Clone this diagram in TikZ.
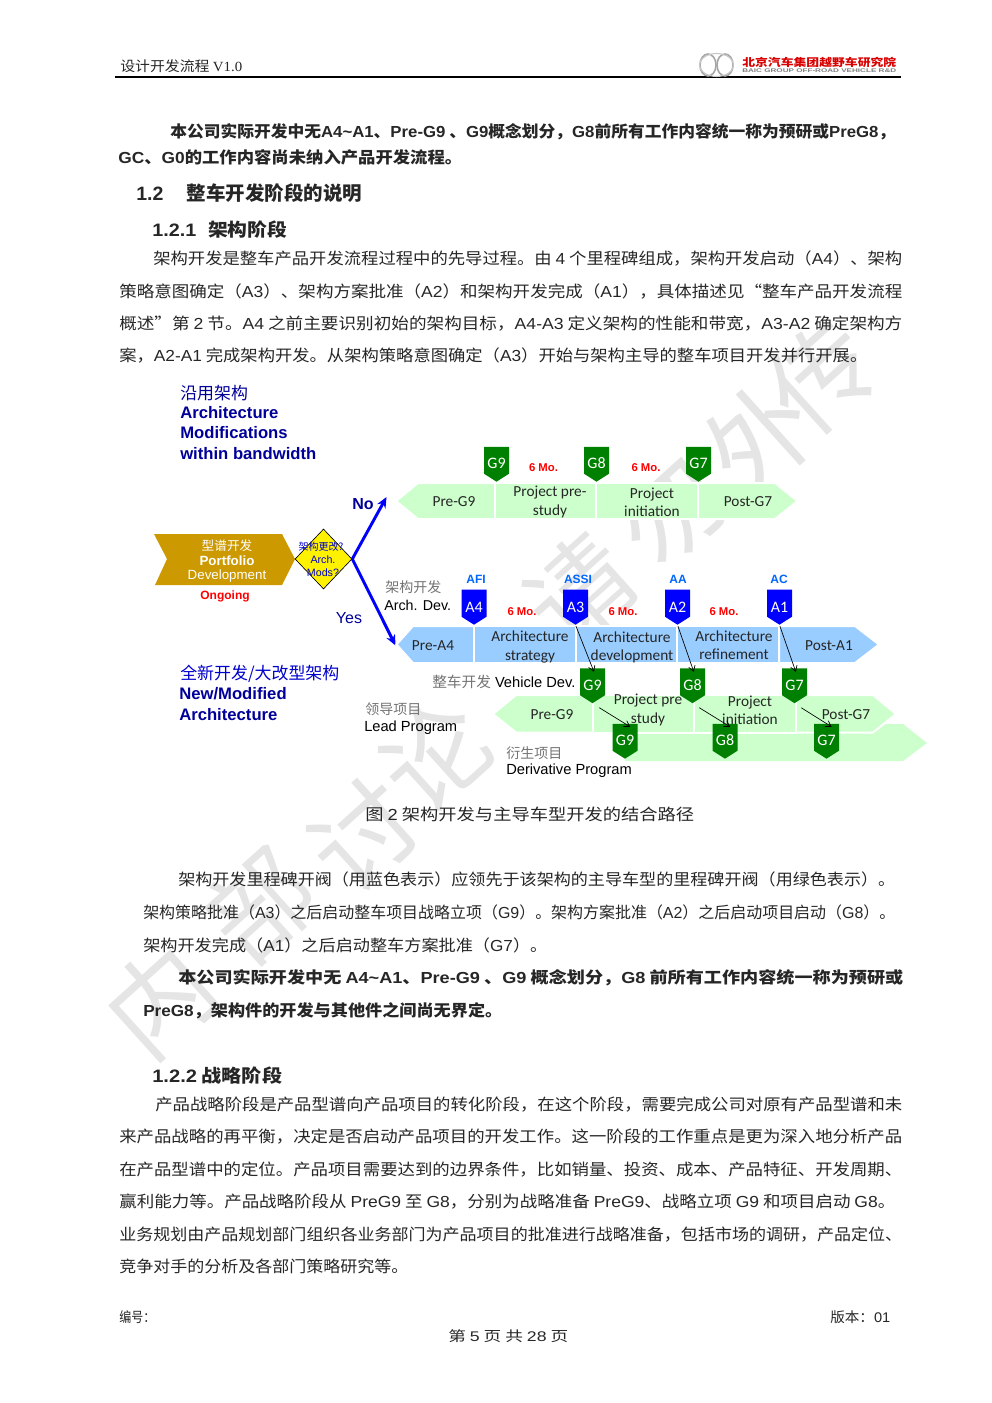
\documentclass[tikz,border=0pt]{standalone}
\usepackage{fontspec}
\usepackage{graphicx}
\usetikzlibrary{arrows.meta, positioning, shapes.geometric, shapes.symbols}
\setmainfont{Noto Sans CJK SC}
\newfontfamily\latfont{Liberation Sans}
\newfontfamily\serfont{Liberation Serif}
\newfontfamily\carfont{Carlito}
\def\la#1{{\latfont #1}}
\newcommand{\fitw}[2]{\resizebox{\dimexpr 0.75pt*#1\relax}{\height}{#2}}
\definecolor{barblue}{HTML}{99CCFF}
\definecolor{bargreen}{HTML}{CCFFCC}
\definecolor{flaggreen}{HTML}{008000}
\definecolor{gold}{HTML}{CC9900}
\definecolor{navy}{HTML}{000099}
\definecolor{milestone}{HTML}{0066FF}
\tikzset{
  bodyline/.style={anchor=base west, inner sep=0pt, text=black!85, font=\fontsize{12}{14}\selectfont},
  mark wm/.style={inner sep=0pt, text=black!10, rotate=42, font=\fontsize{78}{78}\selectfont},
  bluebar/.style={fill=barblue, draw=white, line width=1.5pt},
  greenbar/.style={fill=bargreen, draw=white, line width=1.5pt},
  bartext/.style={inner sep=0pt, align=center, text=black!85, font=\carfont\fontsize{11.5}{13.6}\selectfont},
  flagbox/.style={signal, signal to=south, signal pointer angle=115, anchor=south, inner sep=0pt,
    minimum width=18.75pt, minimum height=24.5pt, text=white, font=\carfont\fontsize{12}{13}\selectfont},
  gflag/.style={flagbox, fill=flaggreen, text height=12.5pt, text depth=0pt},
  aflag/.style={flagbox, fill=blue, text height=14.5pt, text depth=0pt},
  months/.style={inner sep=0pt, text=red, font=\latfont\bfseries\fontsize{8.5}{10}\selectfont},
  msname/.style={inner sep=0pt, text=milestone, font=\latfont\bfseries\fontsize{9}{10}\selectfont},
  dtitle/.style={anchor=west, inner sep=0pt, text=navy, font=\latfont\bfseries\fontsize{12.5}{14}\selectfont},
  dtitlecn/.style={anchor=west, inner sep=0pt, text=navy, font=\fontsize{12.7}{14}\selectfont},
  dnote/.style={anchor=west, inner sep=0pt, text=black, font=\latfont\fontsize{11}{12}\selectfont},
  dnotecn/.style={anchor=west, inner sep=0pt, text=black!55, font=\fontsize{10.5}{12}\selectfont},
  link/.style={-{Straight Barb[length=4pt,width=5pt]}, black, line width=0.5pt},
  decide/.style={-{Stealth[length=8pt,width=7pt]}, blue, line width=2.2pt}
}

\begin{document}
\begin{tikzpicture}[x=0.75pt, y=-0.75pt]
\useasboundingbox (0,0) rectangle (992,1403);

% watermark
\node[mark wm] (wm1) at (160,1000) {内};
\node[mark wm] (wm2) at (260,905) {部};
\node[mark wm] (wm3) at (363,835) {讨};
\node[mark wm] (wm4) at (435,755) {论};
\node[mark wm] (wm5) at (580,590) {请};
\node[mark wm] (wm6) at (670,510) {勿};
\node[mark wm] (wm7) at (760,438) {外};
\node[mark wm] (wm8) at (822,376) {传};

% page header
\node[bodyline, font=\fontsize{10.5}{12}\selectfont] (headtitle) at (120,71) {\fitw{122}{设计开发流程 \serfont V1.0}};
\draw[black, line width=1.1pt] (115,77) -- (901,77);
\draw[gray!70, line width=1.2pt] (708,65) ellipse (8 and 11);
\draw[gray!70, line width=1.2pt] (725,65) ellipse (8 and 11);
\draw[gray!45, line width=0.8pt] (716.5,65) ellipse (17 and 11.5);
\node[bodyline, text=red!85!black, font=\bfseries\fontsize{8}{9}\selectfont] (logocn) at (742,66) {\fitw{154}{北京汽车集团越野车研究院}};
\node[bodyline, text=gray, font=\latfont\bfseries\fontsize{4}{5}\selectfont] (logoen) at (742,72) {\fitw{154}{BAIC GROUP OFF-ROAD VEHICLE R\&D}};

% text above the figure
\node[bodyline, font=\bfseries\fontsize{12}{14}\selectfont] (line1) at (170,137) {\fitw{725}{本公司实际开发中无\la{A4\textasciitilde A1}、\la{Pre-G9} 、\la{G9}概念划分，\la{G8}前所有工作内容统一称为预研或\la{PreG8}，}};
\node[bodyline, font=\bfseries\fontsize{12}{14}\selectfont] (line2) at (118,163) {\fitw{344}{\la{GC}、\la{G0}的工作内容尚未纳入产品开发流程。}};
\node[bodyline, font=\bfseries\fontsize{14.5}{16}\selectfont] (head1) at (136,200) {\fitw{226}{\la{1.2}\hspace{1.2em}整车开发阶段的说明}};
\node[bodyline, font=\bfseries\fontsize{13.5}{15}\selectfont] (head2) at (152,236) {\fitw{135}{\la{1.2.1}\hspace{0.6em}架构阶段}};
\node[bodyline] (line3) at (153,264) {\fitw{749}{架构开发是整车产品开发流程过程中的先导过程。由 \la{4} 个里程碑组成，架构开发启动（\la{A4}）、架构}};
\node[bodyline] (line4) at (119,297) {\fitw{783}{策略意图确定（\la{A3}）、架构方案批准（\la{A2}）和架构开发完成（\la{A1}），具体描述见“整车产品开发流程}};
\node[bodyline] (line5) at (119,329) {\fitw{783}{概述”第 \la{2} 节。\la{A4} 之前主要识别初始的架构目标，\la{A4-A3} 定义架构的性能和带宽，\la{A3-A2} 确定架构方}};
\node[bodyline] (line6) at (119,361) {\fitw{748}{案，\la{A2-A1} 完成架构开发。从架构策略意图确定（\la{A3}）开始与架构主导的整车项目开发并行开展。}};

% figure, left part
\node[dtitlecn] (reusecn) at (180,393) {沿用架构};
\node[dtitle] (reuse1) at (180,412.5) {Architecture};
\node[dtitle] (reuse2) at (180,433) {Modifications};
\node[dtitle] (reuse3) at (180,453.5) {within bandwidth};
\fill[gold] (154,534) -- (282,534) -- (295,559) -- (282,585) -- (155,585) -- (167,559) -- cycle;
\node[inner sep=0pt, text=white, font=\fontsize{9.5}{11}\selectfont] (portcn) at (227,545.5) {型谱开发};
\node[inner sep=0pt, text=white, font=\latfont\bfseries\fontsize{10}{11}\selectfont] (port1) at (227,560.5) {Portfolio};
\node[inner sep=0pt, text=white, font=\latfont\fontsize{10}{11}\selectfont] (port2) at (227,576) {Development};
\node[inner sep=0pt, text=red, font=\latfont\bfseries\fontsize{9}{10}\selectfont] (ongoing) at (225,596) {Ongoing};
\node[diamond, draw=black, fill=yellow, line width=0.5pt, inner sep=0pt, minimum width=42.7pt, minimum height=45pt] (mods) at (323.5,559) {};
\node[inner sep=0pt, text=blue!80!black, font=\fontsize{7.5}{9}\selectfont] (modscn) at (321,547) {架构更改?};
\node[inner sep=0pt, text=blue!80!black, font=\latfont\fontsize{8}{9}\selectfont] (mods1) at (323,560) {Arch.};
\node[inner sep=0pt, text=blue!80!black, font=\latfont\fontsize{8}{9}\selectfont] (mods2) at (323,573) {Mods?};
\coordinate (noend) at (386.5,497);
\coordinate (yesend) at (395.5,645.5);
\draw[decide] (mods.east) -- (noend);
\draw[decide] (mods.east) -- (yesend);
\node[dtitle, anchor=center, font=\latfont\bfseries\fontsize{12}{14}\selectfont] (nolabel) at (363,504) {No};
\node[dtitle, anchor=center, font=\latfont\fontsize{12}{14}\selectfont] (yeslabel) at (349,618) {Yes};
\node[dtitlecn, text=blue!80!black] (newcn) at (180,674) {全新开发/大改型架构};
\node[dtitle] (new1) at (179,694) {New/Modified};
\node[dtitle] (new2) at (179,714.5) {Architecture};

\node[dnotecn] (archcn) at (385,587) {架构开发};
\node[dnote, font=\latfont\fontsize{10.7}{12}\selectfont] (archen) at (384,605) {Arch. Dev.};
\node[dnote] (vehicle) at (432,682) {{\color{black!55}\fontspec{Noto Sans CJK SC}整车开发} Vehicle Dev.};
\node[dnotecn] (leadcn) at (365,709) {领导项目};
\node[dnote] (leaden) at (364,727.5) {Lead Program};
\node[dnotecn] (derivcn) at (506,753) {衍生项目};
\node[dnote] (deriven) at (506,771) {Derivative Program};

% top bar, no architecture change
\draw[greenbar] (396,501) -- (418,483) -- (495,483) -- (495,519) -- (418,519) -- cycle;
\draw[greenbar] (495,483) -- (596,483) -- (596,519) -- (495,519) -- cycle;
\draw[greenbar] (596,483) -- (698,483) -- (698,519) -- (596,519) -- cycle;
\draw[greenbar] (698,483) -- (775,483) -- (797.5,501) -- (775,519) -- (698,519) -- cycle;
\node[bartext] (topa) at (454,502) {Pre-G9};
\node[bartext] (topb) at (550,502) {Project pre-\\study};
\node[bartext] (topc) at (652,502) {Project\\initiation};
\node[bartext] (topd) at (748,502) {Post-G7};
\node[gflag] (g9top) at (496.5,482) {G9};
\node[gflag] (g8top) at (596.5,482) {G8};
\node[gflag] (g7top) at (698.5,482) {G7};
\node[months] (motopa) at (543.5,468) {6 Mo.};
\node[months] (motopb) at (646,468) {6 Mo.};

% architecture bar
\draw[bluebar] (396.5,644.5) -- (413,626) -- (474,626) -- (474,663) -- (413,663) -- cycle;
\draw[bluebar] (474,626) -- (576,626) -- (576,663) -- (474,663) -- cycle;
\draw[bluebar] (576,626) -- (677,626) -- (677,663) -- (576,663) -- cycle;
\draw[bluebar] (677,626) -- (779,626) -- (779,663) -- (677,663) -- cycle;
\draw[bluebar] (779,626) -- (855,626) -- (879,644.5) -- (855,663) -- (779,663) -- cycle;
\node[bartext] (blua) at (433,646) {Pre-A4};
\node[bartext] (blub) at (530,647) {Architecture\\strategy};
\node[bartext] (bluc) at (632,647) {Architecture\\development};
\node[bartext] (blud) at (734,645) {Architecture\\refinement};
\node[bartext] (blue) at (829,646) {Post-A1};
\node[aflag] (a4) at (474,625) {A4};
\node[aflag] (a3) at (575.5,625) {A3};
\node[aflag] (a2) at (677.5,625) {A2};
\node[aflag] (a1) at (779.5,625) {A1};
\node[msname] (afi) at (476,579) {AFI};
\node[msname] (assi) at (578,579) {ASSI};
\node[msname] (aa) at (678,579) {AA};
\node[msname] (ac) at (779,579) {AC};
\node[months] (moa) at (522,612) {6 Mo.};
\node[months] (mob) at (623,612) {6 Mo.};
\node[months] (moc) at (724,612) {6 Mo.};

% derivative and lead program bars
\fill[bargreen] (625,724) -- (903,724) -- (927,743) -- (903,761) -- (625,761) -- cycle;
\draw[greenbar] (493,714) -- (516,695) -- (593,695) -- (593,732.5) -- (516,732.5) -- cycle;
\draw[greenbar] (593,695) -- (694,695) -- (694,732.5) -- (593,732.5) -- cycle;
\draw[greenbar] (694,695) -- (796,695) -- (796,732.5) -- (694,732.5) -- cycle;
\draw[greenbar] (796,695) -- (873,695) -- (896,714) -- (873,732.5) -- (796,732.5) -- cycle;
\node[bartext] (leada) at (552,715) {Pre-G9};
\node[bartext] (leadb) at (648,710) {Project pre\\study};
\node[bartext] (leadc) at (750,710) {Project\\initiation};
\node[bartext] (leadd) at (846,715) {Post-G7};
\node[gflag] (g9lead) at (592.5,703.5) {G9};
\node[gflag] (g8lead) at (692.5,703.5) {G8};
\node[gflag] (g7lead) at (794.5,703.5) {G7};
\node[gflag] (g9der) at (625,759) {G9};
\node[gflag] (g8der) at (725,759) {G8};
\node[gflag] (g7der) at (826.5,759) {G7};

% links between milestones
\draw[link, shorten <=1pt, shorten >=-3pt] (a3.south) -- (g9lead.north);
\draw[link, shorten <=1pt, shorten >=-3pt] (a2.south) -- (g8lead.north);
\draw[link, shorten <=1pt, shorten >=-3pt] (a1.south) -- (g7lead.north);
\draw[link, shorten <=6pt, shorten >=-4.5pt] (g9lead.south) -- (g9der.north);
\draw[link, shorten <=6pt, shorten >=-4.5pt] (g8lead.south) -- (g8der.north);
\draw[link, shorten <=6pt, shorten >=-4.5pt] (g7lead.south) -- (g7der.north);

% text below the figure
\node[bodyline] (caption) at (365,820) {\fitw{329}{图 \la{2} 架构开发与主导车型开发的结合路径}};
\node[bodyline] (line7) at (178,885) {\fitw{717}{架构开发里程碑开阀（用蓝色表示）应领先于该架构的主导车型的里程碑开阀（用绿色表示）。}};
\node[bodyline] (line8) at (143,918) {\fitw{752}{架构策略批准（\la{A3}）之后启动整车项目战略立项（\la{G9}）。架构方案批准（\la{A2}）之后启动项目启动（\la{G8}）。}};
\node[bodyline] (line9) at (143,951) {\fitw{404}{架构开发完成（\la{A1}）之后启动整车方案批准（\la{G7}）。}};
\node[bodyline, font=\bfseries\fontsize{12}{14}\selectfont] (line10) at (178,983) {\fitw{725}{本公司实际开发中无 \la{A4\textasciitilde A1}、\la{Pre-G9} 、\la{G9} 概念划分，\la{G8} 前所有工作内容统一称为预研或}};
\node[bodyline, font=\bfseries\fontsize{12}{14}\selectfont] (line11) at (143,1016) {\fitw{359}{\la{PreG8}，架构件的开发与其他件之间尚无界定。}};
\node[bodyline, font=\bfseries\fontsize{13.5}{15}\selectfont] (head3) at (152,1082) {\fitw{130}{\la{1.2.2} 战略阶段}};
\node[bodyline] (line12) at (155,1110) {\fitw{747}{产品战略阶段是产品型谱向产品项目的转化阶段，在这个阶段，需要完成公司对原有产品型谱和未}};
\node[bodyline] (line13) at (119,1142) {\fitw{783}{来产品战略的再平衡，决定是否启动产品项目的开发工作。这一阶段的工作重点是更为深入地分析产品}};
\node[bodyline] (line14) at (119,1175) {\fitw{783}{在产品型谱中的定位。产品项目需要达到的边界条件，比如销量、投资、成本、产品特征、开发周期、}};
\node[bodyline] (line15) at (119,1207) {\fitw{776}{赢利能力等。产品战略阶段从 \la{PreG9} 至 \la{G8}，分别为战略准备 \la{PreG9}、战略立项 \la{G9} 和项目启动 \la{G8}。}};
\node[bodyline] (line16) at (119,1240) {\fitw{783}{业务规划由产品规划部门组织各业务部门为产品项目的批准进行战略准备，包括市场的调研，产品定位、}};
\node[bodyline] (line17) at (119,1272) {\fitw{289}{竞争对手的分析及各部门策略研究等。}};

% page footer
\node[bodyline, font=\fontsize{10.5}{12}\selectfont] (serial) at (119,1322) {\fitw{36}{编号：}};
\node[bodyline, font=\fontsize{10.5}{12}\selectfont] (version) at (830,1322) {\fitw{60}{版本：\la{01}}};
\node[bodyline, font=\fontsize{10.5}{12}\selectfont] (pageno) at (448,1341) {\fitw{120}{第 \la{5} 页 共 \la{28} 页}};
\end{tikzpicture}
\end{document}
